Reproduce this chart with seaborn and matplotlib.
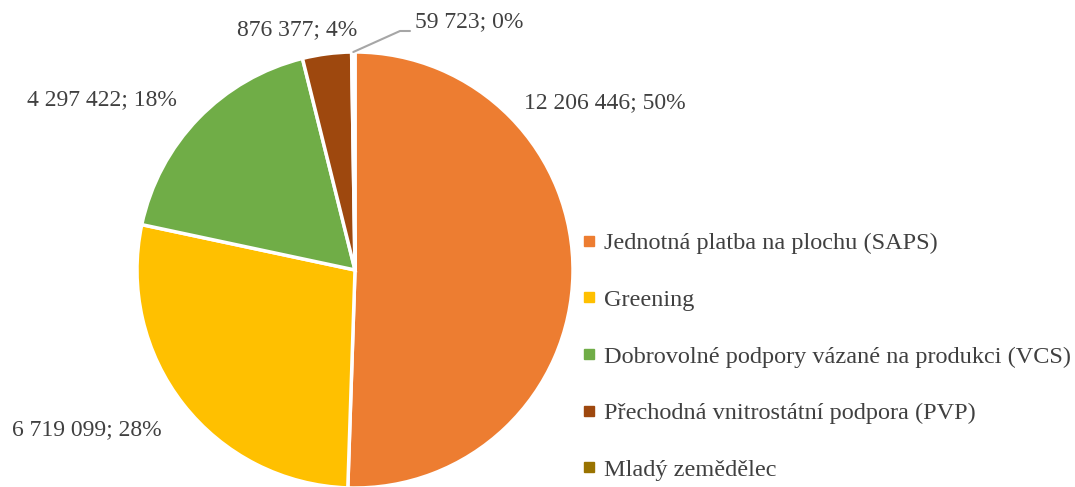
import matplotlib
matplotlib.use("Agg")
import matplotlib.pyplot as plt
from matplotlib.lines import Line2D
import numpy as np
import seaborn as sns

categories = ["Jednotná platba na plochu (SAPS)", "Greening",
              "Dobrovolné podpory vázané na produkci (VCS)",
              "Přechodná vnitrostátní podpora (PVP)", "Mladý zemědělec"]
values = [12206446, 6719099, 4297422, 876377, 59723]
value_labels = ["12 206 446; 50%", "6 719 099; 28%", "4 297 422; 18%",
                "876 377; 4%", "59 723; 0%"]
colors = ["#ED7D31", "#FFC000", "#70AD47", "#9E480E", "#997300"]

sns.set_theme(style="white")
plt.rcParams["font.family"] = ["Liberation Serif", "DejaVu Serif"]
text_color = "#404040"
fs = 17

fig = plt.figure(figsize=(10.75, 4.87), dpi=100)
ax = fig.add_axes([137 / 1075, (487 - 270 - 218) / 487, 436 / 1075, 436 / 487])
wedges, _ = ax.pie(values, colors=colors, startangle=90, counterclock=False,
                   radius=1.0, wedgeprops=dict(edgecolor="white", linewidth=2.5))
ax.set_xlim(-1, 1)
ax.set_ylim(-1, 1)
ax.set_aspect("equal")
ax.axis("off")

# label positions (figure pixel coordinates, layout only)
label_pos = [(605, 103), (87, 430), (102, 100), (297, 30), (469, 22)]
for (px, py), txt in zip(label_pos, value_labels):
    fig.text(px / 1075, 1 - py / 487, txt, ha="center", va="center",
             fontsize=fs, color=text_color)

# leader line for smallest slice
w = wedges[4]
ang = np.deg2rad((w.theta1 + w.theta2) / 2)
x0, y0 = np.cos(ang), np.sin(ang)
p0 = fig.transFigure.inverted().transform(ax.transData.transform((x0, y0)))
line = Line2D([p0[0], 400 / 1075, 410 / 1075],
              [p0[1], 1 - 31 / 487, 1 - 31 / 487],
              transform=fig.transFigure, color="#A6A6A6", lw=1.5)
fig.add_artist(line)

handles = [Line2D([0], [0], marker="s", linestyle="none", markersize=6.5,
                  markerfacecolor=c, markeredgecolor=c) for c in colors]
leg = fig.legend(handles, categories, loc="center left",
                 bbox_to_anchor=(582 / 1075, 1 - 356.5 / 487),
                 frameon=False, fontsize=17.5, labelspacing=1.42,
                 handlelength=0.6, handletextpad=0.3, borderpad=0, borderaxespad=0)
for t in leg.get_texts():
    t.set_color(text_color)

fig.savefig("out.png", dpi=100)
